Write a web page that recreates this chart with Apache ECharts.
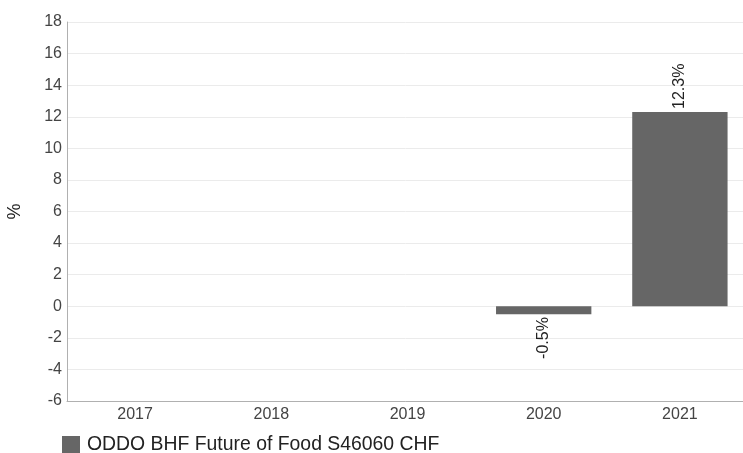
<!DOCTYPE html>
<html><head><meta charset="utf-8">
<script src="https://cdn.jsdelivr.net/npm/echarts@6/dist/echarts.min.js"></script>
<style>html,body{margin:0;padding:0;background:#fff}#c{width:743px;height:453px}</style>
</head><body><div id="c"></div>
<script>
const categories = ['2017','2018','2019','2020','2021'];
const seriesName = 'ODDO BHF Future of Food S46060 CHF';
const values = [null, null, null, -0.5, 12.3];
const chart = echarts.init(document.getElementById('c'));
chart.setOption({
  animation: false,
  textStyle: {fontFamily: 'Liberation Sans, Arial, sans-serif'},
  grid: {left: 67, right: -5, top: 22, bottom: 52, containLabel: false, outerBoundsMode: 'none'},
  legend: {
    left: 57, bottom: -6, itemWidth: 18, itemHeight: 17, icon: 'rect', itemGap: 8,
    textStyle: {fontSize: 19.4, color: '#222', padding: [0, 0, 0, 2]},
    data: [seriesName]
  },
  xAxis: {
    type: 'category', data: categories,
    axisLine: {show: true, onZero: false, lineStyle: {color: '#b0b0b0'}},
    axisTick: {show: false},
    axisLabel: {color: '#444', fontSize: 16, margin: 6}
  },
  yAxis: {
    type: 'value', min: -6, max: 18, interval: 2,
    name: '%', nameLocation: 'middle', nameRotate: 90, nameGap: 43,
    nameTextStyle: {fontSize: 18, color: '#222'},
    axisLine: {show: true, lineStyle: {color: '#b0b0b0'}},
    axisLabel: {color: '#444', fontSize: 16, margin: 5},
    splitLine: {lineStyle: {color: '#ebebeb'}}
  },
  series: [{
    name: seriesName, type: 'bar', barWidth: '70%',
    data: values.map(v => v === null ? null : (v < 0 ? {value: v, label: {position: 'bottom', align: 'right'}} : v)),
    itemStyle: {color: '#666666'},
    label: {
      show: true, rotate: 90, fontSize: 16, color: '#222',
      formatter: p => p.value + '%',
      position: 'top', align: 'left', verticalAlign: 'middle', distance: 3
    }
  }]
});
</script></body></html>
